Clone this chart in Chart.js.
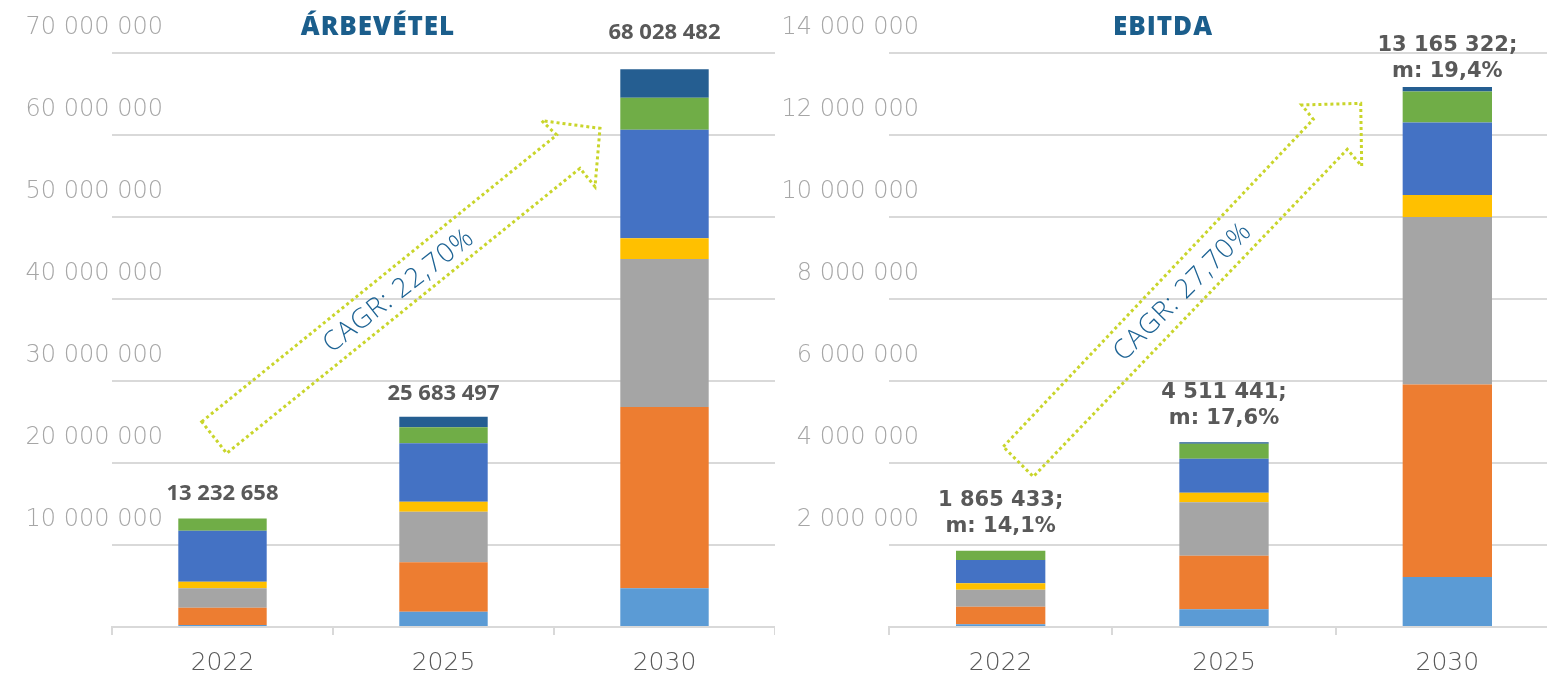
<!DOCTYPE html>
<html>
<head>
<meta charset="utf-8">
<script src="https://cdn.jsdelivr.net/npm/chart.js@4"></script>
<style>
  html, body { margin: 0; padding: 0; background: #fff; overflow: hidden; width: 1547px; height: 676px; position: relative; }
  canvas { position: absolute; top: 0; }
  #rev { left: 0; }
  #ebitda { left: 775px; }
</style>
</head>
<body>
<canvas id="rev" width="775" height="676"></canvas>
<canvas id="ebitda" width="790" height="676"></canvas>
<script>
// categories
const years = ['2022', '2025', '2030'];

// segment colours, bottom to top
const segmentColors = ['#5b9bd5', '#ed7d31', '#a5a5a5', '#ffc000', '#4472c4', '#70ad47', '#255e91'];

// Árbevétel segments (bottom to top)
const revLightBlue = [250000, 1870000, 4720000];
const revOrange    = [2110000, 6020000, 22120000];
const revGray      = [2370000, 6170000, 18050000];
const revYellow    = [800000, 1220000, 2510000];
const revBlue      = [6200000, 7120000, 13230000];
const revGreen     = [1500000, 1950000, 3910000];
const revDarkBlue  = [0, 1290000, 3480000];
const revTotals    = [['13 232 658'], ['25 683 497'], ['68 028 482']];

// EBITDA segments (bottom to top)
const ebitdaLightBlue = [66000, 432000, 1220000];
const ebitdaOrange    = [430000, 1307000, 4695000];
const ebitdaGray      = [415000, 1302000, 4085000];
const ebitdaYellow    = [156000, 234000, 534000];
const ebitdaBlue      = [568000, 829000, 1771000];
const ebitdaGreen     = [227000, 366000, 754000];
const ebitdaDarkBlue  = [0, 34000, 112000];
const ebitdaTotals    = [['1 865 433;', 'm: 14,1%'], ['4 511 441;', 'm: 17,6%'], ['13 165 322;', 'm: 19,4%']];

const revMax = 70000000, revStep = 10000000;
const ebitdaMax = 14000000, ebitdaStep = 2000000;

const tickFont = { family: '"DejaVu Sans"', weight: 200, size: 24 };
const fmt = v => v === 0 ? '' : String(v).replace(/\B(?=(\d{3})+(?!\d))/g, ' ');

// width of the longest y label, so the labels can be right aligned on a fixed x
function widestLabel(max, step) {
  const c = document.createElement('canvas').getContext('2d');
  c.font = `normal ${tickFont.weight} ${tickFont.size}px ${tickFont.family}`;
  let w = 0;
  for (let v = step; v <= max; v += step) w = Math.max(w, c.measureText(fmt(v)).width);
  return w;
}

// title, total labels and the CAGR arrow
const decorations = {
  id: 'decorations',
  afterDatasetsDraw(chart, args, opts) {
    const ctx = chart.ctx;
    ctx.save();

    // arrow outline
    ctx.strokeStyle = '#c9d52b';
    ctx.lineWidth = 3;
    ctx.setLineDash([3, 3]);
    ctx.beginPath();
    opts.arrow.forEach((p, i) => i ? ctx.lineTo(p[0], p[1]) : ctx.moveTo(p[0], p[1]));
    ctx.closePath();
    ctx.stroke();
    ctx.setLineDash([]);

    // CAGR text
    ctx.save();
    ctx.translate(opts.cagrAt[0], opts.cagrAt[1]);
    ctx.rotate(opts.cagrAngle * Math.PI / 180);
    ctx.fillStyle = '#1d6394';
    ctx.font = '300 27px "Open Sans"';
    ctx.letterSpacing = '1px';
    ctx.textAlign = 'center';
    ctx.textBaseline = 'middle';
    ctx.fillText(opts.cagr, 0, 0);
    ctx.restore();

    // title
    ctx.fillStyle = '#1b5e8c';
    ctx.font = '800 26px "Open Sans"';
    ctx.letterSpacing = '1px';
    ctx.textAlign = 'center';
    ctx.textBaseline = 'middle';
    ctx.fillText(opts.title, opts.titleX, 28);
    ctx.letterSpacing = '0px';

    // totals above the stacks
    const last = chart.getDatasetMeta(chart.data.datasets.length - 1);
    ctx.fillStyle = '#595959';
    ctx.font = opts.totalFont;
    opts.totals.forEach((lines, i) => {
      const bar = last.data[i];
      let y = bar.y - opts.totalGap[i];
      for (let k = lines.length - 1; k >= 0; k--) {
        ctx.fillText(lines[k], bar.x, y);
        y -= 26;
      }
    });
    ctx.restore();
  }
};

function makeChart(id, series, max, step, deco) {
  const labelPad = deco.labelRight - deco.axisWidth - widestLabel(max, step);
  return new Chart(document.getElementById(id), {
    type: 'bar',
    data: {
      labels: years,
      datasets: series.map((data, i) => ({
        data: data,
        backgroundColor: segmentColors[i],
        borderWidth: 0,
        barPercentage: 0.4,
        categoryPercentage: 1
      }))
    },
    options: {
      responsive: false,
      animation: false,
      layout: { padding: { top: 53, left: 0, right: deco.padRight, bottom: 0 } },
      plugins: {
        legend: { display: false },
        tooltip: { enabled: false },
        decorations: deco
      },
      scales: {
        x: {
          stacked: true,
          afterFit: s => { s.height = 49; },
          border: { display: true, color: '#d9d9d9', width: 2 },
          grid: { display: true, drawOnChartArea: false, color: '#d9d9d9', lineWidth: 2, tickLength: 8, offset: true },
          ticks: { color: '#595959', padding: 13, font: { family: '"DejaVu Sans"', weight: 200, size: 25 } }
        },
        y: {
          stacked: true,
          min: 0,
          max: max,
          afterFit: s => { s.width = deco.axisWidth; },
          border: { display: false },
          grid: { color: '#d9d9d9', lineWidth: 2, drawTicks: false },
          ticks: {
            stepSize: step,
            mirror: true,
            crossAlign: 'far',
            padding: labelPad,
            labelOffset: -25,
            color: '#a6a6a6',
            font: tickFont,
            callback: v => fmt(v)
          }
        }
      }
    },
    plugins: [decorations]
  });
}

makeChart('rev',
  [revLightBlue, revOrange, revGray, revYellow, revBlue, revGreen, revDarkBlue],
  revMax, revStep,
  {
    axisWidth: 112, labelRight: 163, padRight: 0,
    title: 'ÁRBEVÉTEL', titleX: 378,
    totals: revTotals, totalFont: 'bold 22px "Open Sans"', totalGap: [25, 23, 37],
    cagr: 'CAGR: 22,70%', cagrAt: [399, 291], cagrAngle: -38,
    arrow: [[201.7, 421.7], [556.7, 135], [541.7, 120.7], [600, 128.3], [595, 186.7], [580, 168.3], [226.7, 453.3]]
  });

makeChart('ebitda',
  [ebitdaLightBlue, ebitdaOrange, ebitdaGray, ebitdaYellow, ebitdaBlue, ebitdaGreen, ebitdaDarkBlue],
  ebitdaMax, ebitdaStep,
  {
    axisWidth: 114, labelRight: 144, padRight: 6,
    title: 'EBITDA', titleX: 388,
    totals: ebitdaTotals, totalFont: 'bold 21px "DejaVu Sans"', totalGap: [24, 24, 15],
    cagr: 'CAGR: 27,70%', cagrAt: [408, 292], cagrAngle: -45,
    arrow: [[228.3, 446.7], [538.3, 119.3], [526.7, 105], [585.7, 103.3], [586.7, 166], [572.3, 149.3], [258.3, 476.7]]
  });
</script>
</body>
</html>
